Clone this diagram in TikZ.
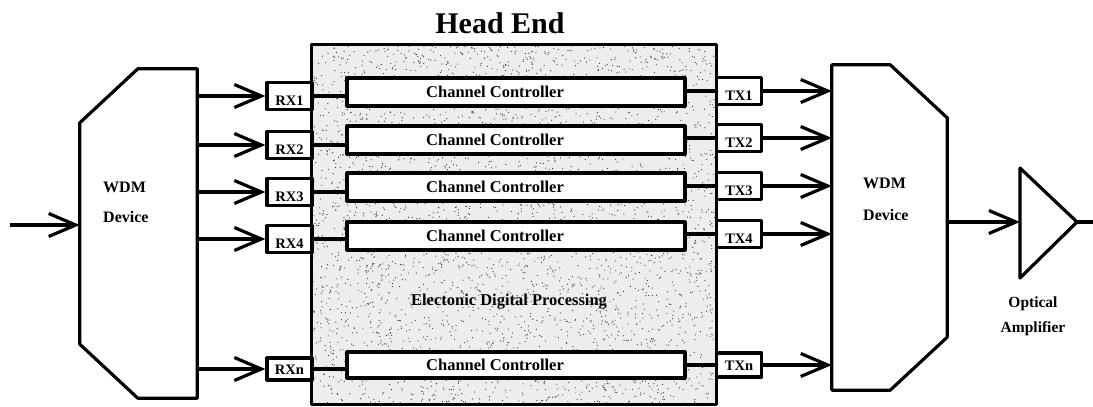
\documentclass[tikz,border=0pt]{standalone}
\usepackage{fontspec}
\setmainfont{Liberation Serif}
\usetikzlibrary{arrows.meta}

\newcommand{\fsz}[1]{\fontsize{#1}{#1}\selectfont}
\newcommand{\ccname}{\hspace*{-42pt}Channel Controller}

\tikzset{
  thick line/.style={line width=3.2pt, line join=round},
  arr/.style={thick line, -{Straight Barb[length=27pt,width=23pt,line width=3.2pt]}},
  port/.style={draw, thick line, fill=white, minimum width=45pt, minimum height=27pt,
    inner sep=0pt, font=\fsz{14.5}\bfseries, text height=9pt, text depth=0pt},
  cc/.style={draw, thick line, fill=white, minimum width=338pt, minimum height=28pt,
    inner sep=0pt, font=\fsz{16.5}\bfseries},
  frame/.style={rectangle, inner sep=0pt},
  wdmtext/.style={font=\fsz{16}\bfseries, inner sep=0pt, anchor=base west},
}

\begin{document}
\begin{tikzpicture}[x=1pt,y=-1pt]
\useasboundingbox (0,0) rectangle (1093,407);

% head end processing block with stippled background
\node[frame, minimum width=404pt, minimum height=359pt, fill=black!7] (he) at (514,224.5) {};
\begin{scope}
  \clip (he.north west) rectangle (he.south east);
  \pgfmathsetseed{7}
  \foreach \i in {1,...,3600}
    \fill[black!80] ({312+404*rnd},{45+359*rnd}) circle (0.6pt);
\end{scope}
\draw[thick line] (he.north west) rectangle (he.south east);
\node[font=\fsz{30}\bfseries, anchor=base] (title) at (500,33) {Head End};
\node[font=\fsz{16.5}\bfseries, anchor=base] (edp) at (509,305) {Electonic Digital Processing};

% WDM demultiplexer (left) and multiplexer (right)
\node[frame, minimum width=117pt, minimum height=329pt] (wdmL) at (138.5,233.5) {};
\draw[thick line] ([yshift=-54pt]wdmL.north west) -- ([xshift=58pt]wdmL.north west)
  -- (wdmL.north east) -- (wdmL.south east) -- ([xshift=58pt]wdmL.south west)
  -- ([yshift=54pt]wdmL.south west) -- cycle;
\node[wdmtext] (wdmLa) at (103,192) {WDM};
\node[wdmtext] (wdmLb) at (103,222) {Device};

\node[frame, minimum width=115pt, minimum height=325pt] (wdmR) at (889.5,227.5) {};
\draw[thick line] (wdmR.north west) -- ([xshift=-57pt]wdmR.north east)
  -- ([yshift=-53pt]wdmR.north east) -- ([yshift=53pt]wdmR.south east)
  -- ([xshift=-57pt]wdmR.south east) -- (wdmR.south west) -- cycle;
\node[wdmtext] (wdmRa) at (863,188) {WDM};
\node[wdmtext] (wdmRb) at (863,220) {Device};

% optical amplifier
\coordinate (ampin) at (1020,222);
\coordinate (ampout) at (1077,222);
\draw[thick line] (1020,168) -- (ampout) -- (1020,278) -- cycle;
\node[font=\fsz{15.5}\bfseries, anchor=base] (ampa) at (1033,307) {Optical};
\node[font=\fsz{15.5}\bfseries, anchor=base] (ampb) at (1033,332) {Amplifier};

% fibre input and output
\coordinate (fin) at (10,225);
\coordinate (fout) at (1093,222);
\draw[arr] (fin) -- (fin -| wdmL.west);
\draw[arr] (wdmR.east |- ampin) -- (ampin);
\draw[thick line] (ampout) -- (fout);

% channel controllers
\node[cc] (cc1) at (516,92)  {\ccname};
\node[cc] (cc2) at (516,140) {\ccname};
\node[cc] (cc3) at (516,187) {\ccname};
\node[cc] (cc4) at (516,236) {\ccname};
\node[cc, minimum height=26pt] (ccn) at (516,365) {\ccname};

% receivers
\node[port] (rx1) at (289.5,96)  {\raisebox{-5pt}{RX1}};
\node[port] (rx2) at (289.5,145) {\raisebox{-5pt}{RX2}};
\node[port] (rx3) at (289.5,192) {\raisebox{-5pt}{RX3}};
\node[port] (rx4) at (289.5,239) {\raisebox{-5pt}{RX4}};
\node[port, minimum height=22pt] (rxn) at (289.5,369) {\raisebox{-1pt}{RXn}};

% transmitters
\node[port] (tx1) at (739,91)  {\raisebox{-5pt}{TX1}};
\node[port] (tx2) at (739,138) {\raisebox{-5pt}{TX2}};
\node[port] (tx3) at (739,186) {\raisebox{-5pt}{TX3}};
\node[port] (tx4) at (739,234) {\raisebox{-5pt}{TX4}};
\node[port, minimum height=24pt] (txn) at (739,365) {\raisebox{-1pt}{TXn}};

% links
\foreach \k in {1,2,3,4,n} {
  \draw[arr] (wdmL.east |- rx\k.center) -- (rx\k.west);
  \draw[thick line] (rx\k.east) -- (rx\k.east -| cc\k.west);
  \draw[thick line] (cc\k.east |- tx\k.center) -- (tx\k.west);
  \draw[arr] (tx\k.east) -- (tx\k.east -| wdmR.west);
}
\end{tikzpicture}
\end{document}
